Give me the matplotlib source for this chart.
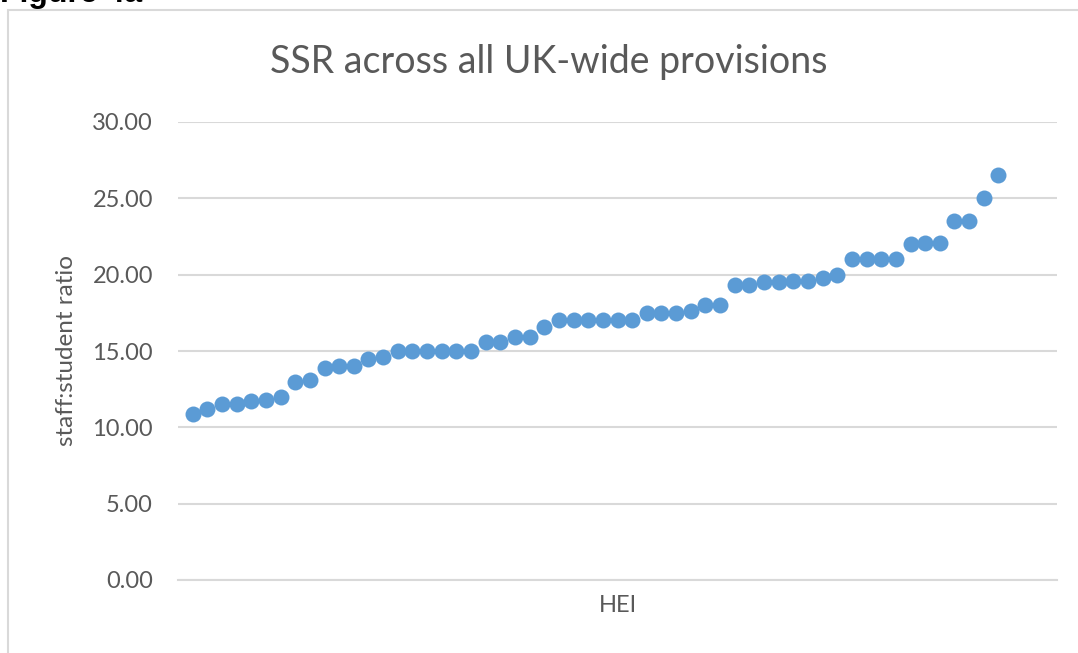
import matplotlib
matplotlib.use("Agg")
import matplotlib.pyplot as plt
from matplotlib.patches import Rectangle

# staff:student ratio per HEI, sorted ascending
hei_index = list(range(1, 57))
ssr = [10.9, 11.2, 11.5, 11.5, 11.7, 11.8, 12.0, 13.0, 13.1, 13.9,
       14.0, 14.0, 14.5, 14.6, 15.0, 15.0, 15.0, 15.0, 15.0, 15.0,
       15.6, 15.6, 15.9, 15.9, 16.6, 17.0, 17.0, 17.0, 17.0, 17.0,
       17.0, 17.5, 17.5, 17.5, 17.6, 18.0, 18.0, 19.3, 19.3, 19.5,
       19.5, 19.6, 19.6, 19.8, 20.0, 21.0, 21.0, 21.0, 21.0, 22.0,
       22.1, 22.1, 23.5, 23.5, 25.0, 26.5]
y_ticks = [0, 5, 10, 15, 20, 25, 30]

plt.rcParams['font.family'] = ['Lato', 'DejaVu Sans']
grey_txt = '#595959'

fig = plt.figure(figsize=(10.78, 6.53), dpi=100)

# chart area border (light grey frame, cut off at right/bottom)
fig.patches.append(Rectangle((8 / 1078, -0.01), 1.1, 1 - 10 / 653 + 0.01,
                             transform=fig.transFigure, fill=False,
                             edgecolor='#d9d9d9', linewidth=1.5))
# caption above chart, partly cut off by the image edge
fig.text(0.0, 1 - 2 / 653, 'Figure 4a', fontsize=23, fontweight='bold',
         family=['Liberation Sans', 'DejaVu Sans'], va='baseline', ha='left')

ax = fig.add_axes([178 / 1078, 1 - 580 / 653, (1057 - 178) / 1078, (580 - 122) / 653])
ax.plot(hei_index, ssr, 'o', color='#5b9bd5', markersize=11.5,
        markeredgewidth=0, zorder=3, clip_on=False)

ax.set_xlim(0, 60)
ax.set_ylim(0, 30)
ax.set_yticks(y_ticks)
ax.set_yticklabels([f'{v:.2f}' for v in y_ticks])
ax.set_xticks([])
ax.tick_params(axis='y', length=0, pad=18, labelsize=17, labelcolor=grey_txt)
ax.grid(axis='y', color='#d9d9d9', linewidth=1.5)
ax.set_axisbelow(True)
for s in ['top', 'right', 'left']:
    ax.spines[s].set_visible(False)
ax.spines['bottom'].set_color('#d9d9d9')
ax.spines['bottom'].set_linewidth(1.5)

ax.set_ylabel('staff:student ratio', fontsize=17.5, color=grey_txt, labelpad=11)
ax.set_xlabel('HEI', fontsize=17, color=grey_txt, labelpad=11)
fig.text(549 / 1078, 1 - 62 / 653, 'SSR across all UK-wide provisions',
         fontsize=27, color=grey_txt, ha='center', va='center')

fig.savefig('out.png', dpi=100)
